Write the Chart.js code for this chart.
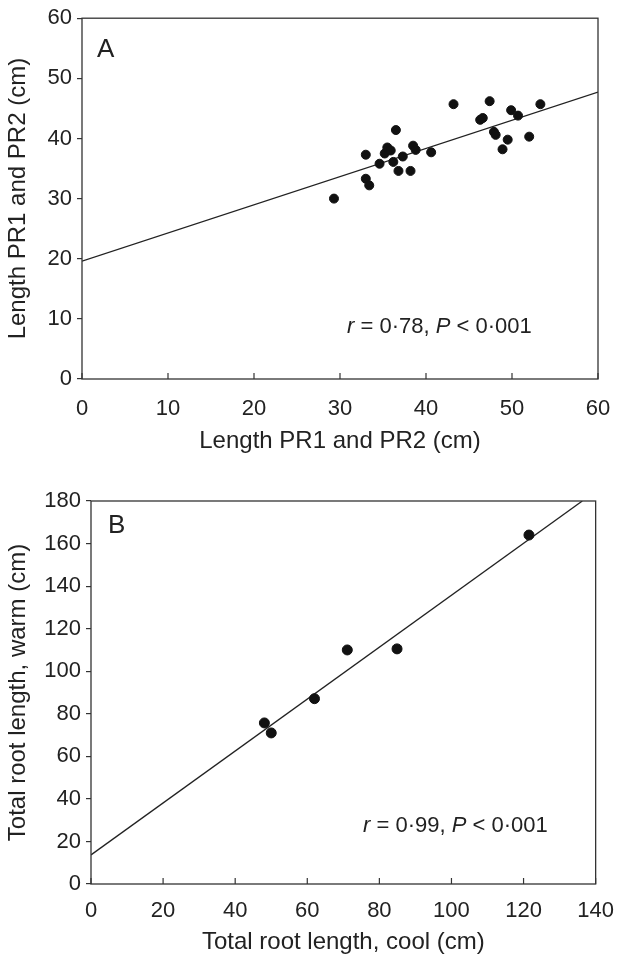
<!DOCTYPE html>
<html lang="en">
<head>
  <meta charset="UTF-8">
  <title>Root length scatter plots A and B</title>
  <script src="https://cdn.jsdelivr.net/npm/chart.js"></script>
  <style>
    html, body { margin: 0; padding: 0; background: #fff; }
    .panel { position: absolute; left: 0; width: 620px; }
    #panelA { top: 0; height: 470px; }
    #panelB { top: 470px; height: 499px; }
    canvas { display: block; }
  </style>
</head>
<body>
  <div class="panel" id="panelA"><canvas id="chartA" width="620" height="470"></canvas></div>
  <div class="panel" id="panelB"><canvas id="chartB" width="620" height="499"></canvas></div>

  <script>
    // Panel A: length PR1 and PR2, one point per plant
    const aX = [29.3, 33.0, 33.0, 33.4, 34.6, 35.2, 35.5, 35.9, 36.2, 36.5, 36.8, 37.3, 38.2, 38.5,
                38.8, 40.6, 43.2, 46.3, 46.6, 47.4, 47.9, 48.1, 48.9, 49.5, 49.9, 50.7, 52.0, 53.3];
    const aY = [30.0, 37.3, 33.3, 32.2, 35.8, 37.5, 38.5, 38.0, 36.1, 41.4, 34.6, 37.0, 34.6, 38.8,
                38.1, 37.7, 45.7, 43.1, 43.4, 46.2, 41.1, 40.6, 38.2, 39.8, 44.7, 43.8, 40.3, 45.7];
    const aFitX = [0, 60];
    const aFitY = [19.6, 47.7];
    const aTicksX = [0, 10, 20, 30, 40, 50, 60];
    const aTicksY = [0, 10, 20, 30, 40, 50, 60];

    // Panel B: total root length, cool vs warm
    const bX = [48.1, 50.0, 62.0, 71.1, 84.9, 121.5];
    const bY = [75.7, 71.0, 87.1, 110.0, 110.5, 164.0];
    const bFitX = [0, 136.3];
    const bFitY = [13.7, 180];
    const bTicksX = [0, 20, 40, 60, 80, 100, 120, 140];
    const bTicksY = [0, 20, 40, 60, 80, 100, 120, 140, 160, 180];

    const FONT = '"Liberation Sans", Arial, Helvetica, sans-serif';
    const INK = '#222';

    function toPoints(xs, ys) {
      return xs.map((x, i) => ({ x: x, y: ys[i] }));
    }

    // frame, inward x ticks, panel letter and r/P note
    const framePlugin = {
      id: 'frame',
      afterDraw(chart, args, opts) {
        const ctx = chart.ctx;
        const a = chart.chartArea;
        const xs = chart.scales.x;
        ctx.save();
        ctx.strokeStyle = '#333';
        ctx.lineWidth = 1.3;
        ctx.strokeRect(a.left, a.top, a.right - a.left, a.bottom - a.top);
        ctx.lineWidth = 1.2;
        xs.ticks.forEach((t, i) => {
          const px = xs.getPixelForTick(i);
          ctx.beginPath();
          ctx.moveTo(px, a.bottom);
          ctx.lineTo(px, a.bottom - 6);
          ctx.stroke();
        });

        ctx.fillStyle = INK;
        ctx.textBaseline = 'alphabetic';
        ctx.font = '26px ' + FONT;
        ctx.fillText(opts.letter, a.left + opts.letterDx, a.top + opts.letterDy);

        // note with italic r and P
        let x = a.left + opts.noteDx;
        const y = a.bottom - opts.noteDy;
        ctx.textBaseline = 'middle';
        opts.note.forEach(seg => {
          ctx.font = (seg.i ? 'italic ' : '') + '22px ' + FONT;
          ctx.fillText(seg.t, x, y);
          x += ctx.measureText(seg.t).width;
        });
        ctx.restore();
      }
    };

    function makeChart(id, cfg) {
      return new Chart(document.getElementById(id), {
        type: 'scatter',
        data: {
          datasets: [
            {
              data: toPoints(cfg.xs, cfg.ys),
              backgroundColor: '#111',
              borderColor: '#111',
              pointRadius: cfg.radius,
              order: 1
            },
            {
              data: toPoints(cfg.fitX, cfg.fitY),
              showLine: true,
              borderColor: '#222',
              borderWidth: 1.3,
              pointRadius: 0,
              order: 2
            }
          ]
        },
        options: {
          responsive: false,
          animation: false,
          layout: { padding: cfg.padding },
          plugins: {
            legend: { display: false },
            tooltip: { enabled: false },
            frame: cfg.frame
          },
          scales: {
            x: {
              type: 'linear',
              min: cfg.ticksX[0],
              max: cfg.ticksX[cfg.ticksX.length - 1],
              afterBuildTicks: s => { s.ticks = cfg.ticksX.map(v => ({ value: v })); },
              afterFit: s => { s.height = cfg.xHeight; },
              grid: { display: false },
              border: { display: false },
              ticks: { color: INK, padding: cfg.xTickPad, maxRotation: 0, font: { family: FONT, size: 22 } },
              title: {
                display: true,
                text: cfg.xTitle,
                color: INK,
                font: { family: FONT, size: 24 },
                padding: { top: 0, bottom: cfg.xTitlePad }
              }
            },
            y: {
              type: 'linear',
              min: cfg.ticksY[0],
              max: cfg.ticksY[cfg.ticksY.length - 1],
              afterBuildTicks: s => { s.ticks = cfg.ticksY.map(v => ({ value: v })); },
              afterFit: s => { s.width = cfg.yWidth; },
              grid: { drawOnChartArea: false, drawTicks: true, tickLength: 5, color: '#333', lineWidth: 1.2 },
              border: { display: false },
              ticks: { color: INK, padding: 5, font: { family: FONT, size: 22 } },
              title: {
                display: true,
                text: cfg.yTitle,
                color: INK,
                font: { family: FONT, size: 24 },
                padding: { top: 4, bottom: 0 }
              }
            }
          }
        },
        plugins: [framePlugin]
      });
    }

    makeChart('chartA', {
      xs: aX, ys: aY, fitX: aFitX, fitY: aFitY,
      ticksX: aTicksX, ticksY: aTicksY,
      radius: 4.5,
      padding: { top: 8, right: 22, bottom: 0, left: 0 },
      xHeight: 91, yWidth: 82, xTickPad: 9, xTitlePad: 14,
      xTitle: 'Length PR1 and PR2 (cm)',
      yTitle: 'Length PR1 and PR2 (cm)',
      frame: {
        letter: 'A', letterDx: 15, letterDy: 39,
        noteDx: 265, noteDy: 52,
        note: [{ t: 'r', i: true }, { t: ' = 0·78, ', i: false }, { t: 'P', i: true }, { t: ' < 0·001', i: false }]
      }
    });

    makeChart('chartB', {
      xs: bX, ys: bY, fitX: bFitX, fitY: bFitY,
      ticksX: bTicksX, ticksY: bTicksY,
      radius: 5,
      padding: { top: 31, right: 16, bottom: 0, left: 0 },
      xHeight: 85, yWidth: 91, xTickPad: 6, xTitlePad: 12,
      xTitle: 'Total root length, cool (cm)',
      yTitle: 'Total root length, warm (cm)',
      frame: {
        letter: 'B', letterDx: 17, letterDy: 32,
        noteDx: 272, noteDy: 58,
        note: [{ t: 'r', i: true }, { t: ' = 0·99, ', i: false }, { t: 'P', i: true }, { t: ' < 0·001', i: false }]
      }
    });
  </script>
</body>
</html>
